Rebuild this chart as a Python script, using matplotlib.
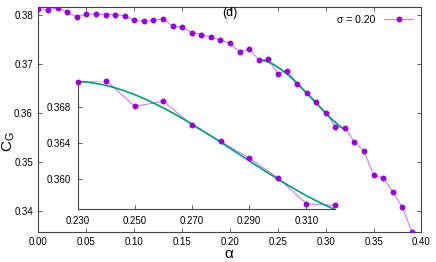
import numpy as np
import matplotlib
matplotlib.use("Agg")
import matplotlib.pyplot as plt

plt.rcParams['font.family'] = ['Liberation Sans', 'DejaVu Sans']

# main series, sigma = 0.20
alpha = [0.00, 0.01, 0.02, 0.03, 0.04, 0.05, 0.06, 0.07, 0.08, 0.09,
         0.10, 0.11, 0.12, 0.13, 0.14, 0.15, 0.16, 0.17, 0.18, 0.19,
         0.20, 0.21, 0.22, 0.23, 0.24, 0.25, 0.26, 0.27, 0.28, 0.29,
         0.30, 0.31, 0.32, 0.33, 0.34, 0.35, 0.36, 0.37, 0.38, 0.39]
cg = [0.3813, 0.3812, 0.3816, 0.3807, 0.3797, 0.3803, 0.3803, 0.3802, 0.3802, 0.3799,
      0.3790, 0.3788, 0.3790, 0.3793, 0.3778, 0.3776, 0.3765, 0.3761, 0.3755, 0.3750,
      0.3743, 0.3725, 0.3732, 0.3709, 0.3710, 0.3681, 0.3687, 0.3660, 0.3642, 0.3623,
      0.3601, 0.3572, 0.3570, 0.3541, 0.3522, 0.3473, 0.3467, 0.3439, 0.3407, 0.3357]

fit_lo, fit_hi = 0.23, 0.32
xticks_main = [0.00, 0.05, 0.10, 0.15, 0.20, 0.25, 0.30, 0.35, 0.40]
yticks_main = [0.34, 0.35, 0.36, 0.37, 0.38]
xticks_inset = [0.230, 0.250, 0.270, 0.290, 0.310]
yticks_inset = [0.360, 0.364, 0.368]

a = np.array(alpha)
c = np.array(cg)
sel = (a >= fit_lo - 1e-9) & (a <= fit_hi + 1e-9)
# cubic fit over the inset window
coef = np.polyfit(a[sel], c[sel], 3)
xf = np.linspace(fit_lo, fit_hi, 200)
yf = np.polyval(coef, xf)

line_col = '#c77dff'
mark_col = '#9400d3'
fit_col = '#009e73'
edge = '#444444'

fig = plt.figure(figsize=(4.36, 2.62), dpi=100)
ax = fig.add_axes([0.0883, 0.1157, 0.8784, 0.8587])
ax.plot(a, c, '-', color=line_col, lw=0.8, zorder=2)
ax.plot(a, c, 'o', color=mark_col, ms=3.2, zorder=3)
ax.plot([], [], '-o', color=line_col, mfc=mark_col, mec=mark_col, ms=3.2, lw=0.8,
        label='σ = 0.20')
ax.plot(xf, yf, color=fit_col, lw=1.2, zorder=2.5)
ax.set_xlim(0.0, 0.40)
ax.set_ylim(0.3357, 0.3818)
ax.set_xticks(xticks_main)
ax.set_xticklabels(['%.2f' % v for v in xticks_main])
ax.set_yticks(yticks_main)
ax.set_yticklabels(['%.2f' % v for v in yticks_main])
ax.tick_params(direction='in', top=True, right=True, length=3, width=0.6,
               labelsize=7, colors=edge, labelcolor='black', pad=4)
for s in ax.spines.values():
    s.set_color(edge)
    s.set_linewidth(0.8)
ax.legend(loc='upper right', frameon=False, markerfirst=False, numpoints=1,
          fontsize=7.5, handlelength=2.8, borderaxespad=0.4)
ax.text(0.20, 0.3805, '(d)', ha='center', va='center', fontsize=9)

fig.text(0.02, 0.46, r'C$_\mathregular{G}$', rotation=90, ha='center', va='center', fontsize=11)
fig.text(0.525, 0.03, 'α', ha='center', va='center', fontsize=11)

# inset
ins = fig.add_axes([0.1782, 0.2023, 0.5901, 0.490])
ins.patch.set_alpha(0)
ins.plot(a[sel], c[sel], '-', color=line_col, lw=0.8, zorder=2)
ins.plot(a[sel], c[sel], 'o', color=mark_col, ms=3.2, zorder=3, clip_on=False)
ins.plot(xf, yf, color=fit_col, lw=1.2, zorder=2.5)
ins.set_xlim(fit_lo, fit_hi)
ins.set_ylim(0.3566, 0.371)
ins.set_xticks(xticks_inset)
ins.set_xticklabels(['%.3f' % v for v in xticks_inset])
ins.set_yticks(yticks_inset)
ins.set_yticklabels(['%.3f' % v for v in yticks_inset])
ins.spines['top'].set_visible(False)
ins.spines['right'].set_visible(False)
for s in ['left', 'bottom']:
    ins.spines[s].set_color(edge)
    ins.spines[s].set_linewidth(0.8)
ins.tick_params(direction='in', length=3, width=0.6, labelsize=7,
                colors=edge, labelcolor='black', pad=5)

fig.savefig('out.png', dpi=100)
